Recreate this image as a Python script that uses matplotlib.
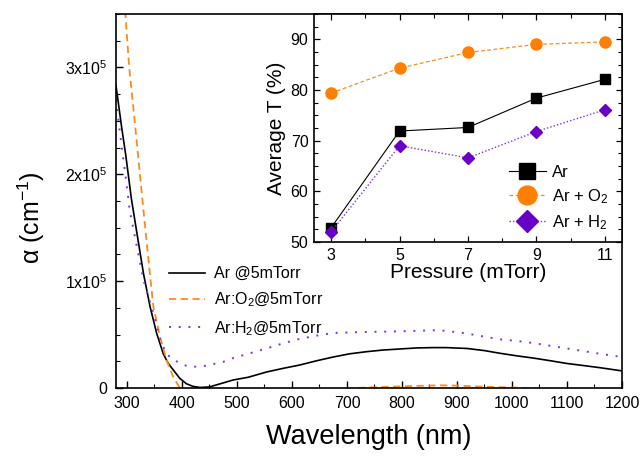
import numpy as np
import matplotlib
matplotlib.use('Agg')
import matplotlib.pyplot as plt
from matplotlib.ticker import MultipleLocator, FuncFormatter

plt.rcParams['font.family'] = ['Liberation Sans', 'DejaVu Sans']
plt.rcParams['mathtext.fontset'] = 'custom'
plt.rcParams['mathtext.rm'] = 'Liberation Sans'
plt.rcParams['mathtext.it'] = 'Liberation Sans:italic'

# Absorption coefficient (in units of 1e5 cm^-1) against wavelength
wl_ar = [280, 290, 298, 308, 318, 330, 342, 354, 366, 375, 384, 396, 408, 420, 433, 450,
		470, 493, 520, 554, 585, 614, 645, 675, 705, 736, 765, 796, 827, 857, 880,
		918, 950, 978, 1010, 1039, 1070, 1099, 1130, 1160, 1180, 1200]
alpha_ar = [2.83, 2.45, 2.17, 1.77, 1.45, 1.07, 0.76, 0.51, 0.32, 0.23, 0.17, 0.09, 0.04, 0.015, 0.005, 0.01,
		0.04, 0.075, 0.10, 0.15, 0.185, 0.215, 0.255, 0.29, 0.32, 0.34, 0.355, 0.365, 0.375, 0.378, 0.378,
		0.37, 0.35, 0.325, 0.30, 0.28, 0.255, 0.23, 0.21, 0.19, 0.175, 0.16]

wl_o2 = [280, 290, 297, 304, 312, 321, 330, 339, 348, 360, 372, 384, 396, 410, 450, 500,
		600, 700, 730, 780, 830, 870, 900, 950, 1000, 1040, 1100, 1200]
alpha_o2 = [5.0, 4.1, 3.5, 3.0, 2.6, 2.13, 1.66, 1.2, 0.76, 0.48, 0.26, 0.105, 0.0, -0.05, -0.06, -0.05,
		-0.03, -0.005, 0.003, 0.012, 0.02, 0.025, 0.022, 0.012, 0.004, -0.002, -0.01, -0.02]

wl_h2 = [280, 290, 296, 305, 318, 330, 348, 360, 372, 380, 390, 400, 414, 433, 445, 475,
		493, 520, 554, 585, 614, 645, 675, 705, 736, 796, 827, 857, 880, 918, 950,
		978, 1010, 1039, 1070, 1100, 1130, 1160, 1200]
alpha_h2 = [2.70, 2.27, 2.04, 1.66, 1.32, 1.01, 0.70, 0.45, 0.32, 0.28, 0.25, 0.22, 0.20, 0.20, 0.21, 0.245,
		0.28, 0.32, 0.37, 0.42, 0.46, 0.49, 0.515, 0.52, 0.525, 0.53, 0.535, 0.54, 0.535, 0.51, 0.48,
		0.455, 0.44, 0.42, 0.395, 0.37, 0.345, 0.32, 0.29]

# Average transmittance against sputtering pressure
pressure = [3, 5, 7, 9, 11]
avg_t_ar = [52.8, 71.9, 72.6, 78.4, 82.1]
avg_t_o2 = [79.4, 84.3, 87.4, 89.0, 89.5]
avg_t_h2 = [52.0, 69.0, 66.6, 71.8, 76.1]

c_orange = '#ff8a1c'
c_purple_line = '#7f2ee6'
c_orange_mk = '#ff7f00'
c_purple_mk = '#6a00c8'

fig = plt.figure(figsize=(6.43, 4.57), dpi=100)
ax = fig.add_axes([0.1804, 0.151, 0.7869, 0.8184])

scale = 1e5
ax.plot(wl_ar, np.array(alpha_ar) * scale, color='black', lw=1.2, label='Ar @5mTorr')
ax.plot(wl_o2, np.array(alpha_o2) * scale, color=c_orange, lw=1.3, ls=(0, (4, 2.5)), label='Ar:O$_2$@5mTorr')
ax.plot(wl_h2, np.array(alpha_h2) * scale, color=c_purple_line, lw=1.4, ls=(0, (1, 4)), label='Ar:H$_2$@5mTorr')

ax.set_xlim(280, 1200)
ax.set_ylim(0, 3.5e5)
ax.xaxis.set_major_locator(MultipleLocator(100))
ax.xaxis.set_minor_locator(MultipleLocator(50))
ax.yaxis.set_major_locator(MultipleLocator(1e5))
ax.yaxis.set_minor_locator(MultipleLocator(0.25e5))

def sci_fmt(v, pos):
	if v == 0:
		return '0'
	return r'%dx10$^5$' % round(v / 1e5)

ax.yaxis.set_major_formatter(FuncFormatter(sci_fmt))
ax.tick_params(which='both', direction='in', labelsize=11.5, pad=6)
ax.tick_params(which='major', length=5, width=1)
ax.tick_params(which='minor', length=3, width=0.8)
for s in ax.spines.values():
	s.set_linewidth(1.2)

ax.set_xlabel('Wavelength (nm)', fontsize=19.5, labelpad=9)
ax.set_ylabel('α (cm$^{-1}$)', fontsize=18)
ax.yaxis.set_label_coords(-0.137, 0.455)

leg = ax.legend(loc='upper left', bbox_to_anchor=(0.093, 0.343), frameon=False, fontsize=11.5,
				handlelength=2.2, handletextpad=0.6, labelspacing=0.62, borderaxespad=0)

# Inset: average transmittance
ins = fig.add_axes([0.4883, 0.4705, 0.479, 0.4989])
ins.plot(pressure, avg_t_ar, color='black', lw=0.8, marker='s', ms=6.5, mfc='black', mec='black', label='Ar')
ins.plot(pressure, avg_t_o2, color=c_orange, lw=0.9, ls=(0, (3, 2)), marker='o', ms=8,
		mfc=c_orange_mk, mec=c_orange_mk, label='Ar + O$_2$')
ins.plot(pressure, avg_t_h2, color=c_purple_line, lw=1.0, ls=(0, (1, 1.5)), marker='D', ms=6.5,
		mfc=c_purple_mk, mec=c_purple_mk, label='Ar + H$_2$')

ins.set_xlim(2.5, 11.5)
ins.set_ylim(50, 95)
ins.xaxis.set_minor_locator(MultipleLocator(1))
ins.set_xticks(pressure)
ins.yaxis.set_major_locator(MultipleLocator(10))
ins.yaxis.set_minor_locator(MultipleLocator(2.5))
ins.tick_params(which='both', direction='in', top=True, right=True, labelsize=11.5, pad=4)
ins.tick_params(which='major', length=4, width=0.9)
ins.tick_params(which='minor', length=3, width=0.8)
for s in ins.spines.values():
	s.set_linewidth(1.2)

ins.set_xlabel('Pressure (mTorr)', fontsize=15, labelpad=0)
ins.set_ylabel('Average T (%)', fontsize=15, labelpad=3)
ins.legend(loc='lower right', bbox_to_anchor=(0.99, 0.0), frameon=False, fontsize=12,
		markerscale=1.7, handlelength=2.2, handletextpad=0.4, labelspacing=0.45, borderaxespad=0.2)

fig.savefig('out.png', dpi=100)
